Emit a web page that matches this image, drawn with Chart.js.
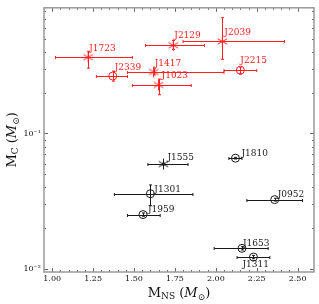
<!DOCTYPE html>
<html>
<head>
<meta charset="utf-8">
<script src="https://cdn.jsdelivr.net/npm/chart.js@4.4.0/dist/chart.umd.min.js"></script>
<style>
  html, body { margin: 0; padding: 0; background: #fff; }
</style>
</head>
<body>
<canvas id="myChart" width="319" height="304"></canvas>
<script>
'use strict';
// red systems
var redNames = ['J1723', 'J2339', 'J1417', 'J1023', 'J2129', 'J2039', 'J2215'];
var redMns = [1.22, 1.37, 1.62, 1.65, 1.74, 2.04, 2.15];
var redMnsLo = [1.02, 1.27, 1.46, 1.49, 1.57, 1.80, 2.05];
var redMnsHi = [1.49, 1.46, 2.05, 1.85, 1.93, 2.42, 2.25];
var redMc = [0.365, 0.265, 0.284, 0.228, 0.447, 0.477, 0.293];
var redMcLo = [0.303, 0.243, 0.27, 0.193, 0.417, 0.352, 0.274];
var redMcHi = [0.404, 0.288, 0.30, 0.252, 0.485, 0.714, 0.308];
var redMarker = ['star', 'circle', 'star', 'star', 'star', 'star', 'circle'];

// black systems
var blackNames = ['J1555', 'J1810', 'J1301', 'J1959', 'J0952', 'J1653', 'J1311'];
var blackMns = [1.68, 2.12, 1.60, 1.555, 2.36, 2.16, 2.23];
var blackMnsLo = [1.585, 2.08, 1.38, 1.46, 2.19, 1.99, 2.13];
var blackMnsHi = [1.83, 2.16, 1.86, 1.66, 2.53, 2.32, 2.33];
var blackMc = [0.0594, 0.0657, 0.0359, 0.0252, 0.0325, 0.0142, 0.01225];
var blackMcLo = [0.0585, 0.0648, 0.0293, 0.0245, 0.0317, 0.0138, 0.0119];
var blackMcHi = [0.0603, 0.0666, 0.0417, 0.0259, 0.0333, 0.0146, 0.0126];
var blackMarker = ['star', 'circle', 'circle', 'circle', 'circle', 'circle', 'circle'];

// tick labels
var xTicks = [1.00, 1.25, 1.50, 1.75, 2.00, 2.25, 2.50];
var yTicks = [0.01, 0.1];
var yTickLabels = ['10\u207B\u00B2', '10\u207B\u00B9'];

var RED = '#ff1f1f';
var BLACK = '#1a1a1a';
var SERIF = '"DejaVu Serif", "Liberation Serif", serif';

// label offsets (px) relative to each marker
var labelOffset = {
  J1723: [1, -9], J2339: [2, -8], J1417: [1, -8], J1023: [3, -9],
  J2129: [1, -10], J2039: [2, -9], J2215: [0, -9],
  J1555: [4, -6], J1810: [6, -5], J1301: [4, -4], J1959: [5, -5],
  J0952: [3, -5], J1653: [1, -5], J1311: [-11, 8]
};

function asteriskImage(color) {
  var c = document.createElement('canvas');
  c.width = 13;
  c.height = 13;
  var g = c.getContext('2d');
  g.strokeStyle = color;
  g.lineWidth = 1;
  var r = 5.5;
  for (var k = 0; k < 3; k++) {
    var a = Math.PI / 2 + k * Math.PI / 3;
    g.beginPath();
    g.moveTo(6.5 + r * Math.cos(a), 6.5 + r * Math.sin(a));
    g.lineTo(6.5 - r * Math.cos(a), 6.5 - r * Math.sin(a));
    g.stroke();
  }
  return c;
}
var redStar = asteriskImage(RED);
var blackStar = asteriskImage(BLACK);

function makePoints(xs, ys) {
  var out = [];
  for (var i = 0; i < xs.length; i++) {
    out.push({x: xs[i], y: ys[i]});
  }
  return out;
}
function makeStyles(markers, img) {
  return markers.map(function (m) { return m === 'star' ? img : 'circle'; });
}

var groups = [
  {names: redNames, lo: redMnsLo, hi: redMnsHi, ylo: redMcLo, yhi: redMcHi, color: RED},
  {names: blackNames, lo: blackMnsLo, hi: blackMnsHi, ylo: blackMcLo, yhi: blackMcHi, color: BLACK}
];

// error bars
var errorBars = {
  id: 'errorBars',
  beforeDatasetsDraw: function (chart) {
    var ctx = chart.ctx;
    var xs = chart.scales.x;
    var ys = chart.scales.y;
    ctx.save();
    ctx.lineWidth = 1;
    groups.forEach(function (g, d) {
      var meta = chart.getDatasetMeta(d);
      ctx.strokeStyle = g.color;
      meta.data.forEach(function (pt, i) {
        var x0 = xs.getPixelForValue(g.lo[i]);
        var x1 = xs.getPixelForValue(g.hi[i]);
        var y0 = ys.getPixelForValue(g.ylo[i]);
        var y1 = ys.getPixelForValue(g.yhi[i]);
        var py = Math.round(pt.y) + 0.5;
        var px = Math.round(pt.x) + 0.5;
        ctx.beginPath();
        ctx.moveTo(x0, py); ctx.lineTo(x1, py);
        ctx.moveTo(x0, py - 1.5); ctx.lineTo(x0, py + 1.5);
        ctx.moveTo(x1, py - 1.5); ctx.lineTo(x1, py + 1.5);
        ctx.moveTo(px, y0); ctx.lineTo(px, y1);
        ctx.moveTo(px - 1.5, y0); ctx.lineTo(px + 1.5, y0);
        ctx.moveTo(px - 1.5, y1); ctx.lineTo(px + 1.5, y1);
        ctx.stroke();
      });
    });
    ctx.restore();
  }
};

// point names
var pointLabels = {
  id: 'pointLabels',
  afterDatasetsDraw: function (chart) {
    var ctx = chart.ctx;
    ctx.save();
    ctx.font = '9px ' + SERIF;
    ctx.textAlign = 'left';
    ctx.textBaseline = 'middle';
    groups.forEach(function (g, d) {
      var meta = chart.getDatasetMeta(d);
      ctx.fillStyle = g.color;
      meta.data.forEach(function (pt, i) {
        var off = labelOffset[g.names[i]];
        ctx.fillText(g.names[i], pt.x + off[0], pt.y + off[1]);
      });
    });
    ctx.restore();
  }
};

// frame, inward ticks on all four sides, axis titles
function drawMixed(ctx, parts, cx, cy) {
  var total = 0;
  parts.forEach(function (p) {
    ctx.font = p.font;
    p.w = ctx.measureText(p.t).width;
    total += p.w;
  });
  var x = cx - total / 2;
  parts.forEach(function (p) {
    ctx.font = p.font;
    ctx.fillText(p.t, x, cy + (p.dy || 0));
    x += p.w;
  });
}

var frame = {
  id: 'frame',
  afterDraw: function (chart) {
    var ctx = chart.ctx;
    var a = chart.chartArea;
    var xs = chart.scales.x;
    var ys = chart.scales.y;
    ctx.save();
    ctx.strokeStyle = '#666';
    ctx.lineWidth = 1;
    ctx.beginPath();
    var v, p, len;
    for (v = 1.0; v <= 2.5001; v += 0.05) {
      p = Math.round(xs.getPixelForValue(v)) + 0.5;
      len = Math.abs(v * 4 - Math.round(v * 4)) < 1e-6 ? 4 : 2;
      ctx.moveTo(p, a.bottom); ctx.lineTo(p, a.bottom - len);
      ctx.moveTo(p, a.top); ctx.lineTo(p, a.top + len);
    }
    [0.01, 0.1].forEach(function (dec) {
      for (var m = 1; m <= 9; m++) {
        var val = dec * m;
        if (val < ys.min || val > ys.max) continue;
        p = Math.round(ys.getPixelForValue(val)) + 0.5;
        len = m === 1 ? 4 : 2;
        ctx.moveTo(a.left, p); ctx.lineTo(a.left + len, p);
        ctx.moveTo(a.right, p); ctx.lineTo(a.right - len, p);
      }
    });
    ctx.stroke();
    ctx.strokeStyle = '#999';
    ctx.lineWidth = 1.5;
    ctx.strokeRect(a.left, a.top, a.right - a.left, a.bottom - a.top);

    ctx.fillStyle = '#111';
    ctx.textBaseline = 'alphabetic';
    ctx.textAlign = 'left';
    var big = '13px ' + SERIF;
    var small = '9px ' + SERIF;
    var ital = 'italic 13px ' + SERIF;
    drawMixed(ctx, [
      {t: 'M', font: big}, {t: 'NS', font: small, dy: 2},
      {t: ' (', font: big}, {t: 'M', font: ital}, {t: '\u2299', font: small, dy: 3},
      {t: ')', font: big}
    ], (a.left + a.right) / 2, 297);
    ctx.translate(16, (a.top + a.bottom) / 2);
    ctx.rotate(-Math.PI / 2);
    drawMixed(ctx, [
      {t: 'M', font: big}, {t: 'C', font: small, dy: 2},
      {t: ' (', font: big}, {t: 'M', font: ital}, {t: '\u2299', font: small, dy: 3},
      {t: ')', font: big}
    ], 0, 0);
    ctx.restore();
  }
};

var ctx = document.getElementById('myChart').getContext('2d');
var chart = new Chart(ctx, {
  type: 'scatter',
  data: {
    datasets: [{
      data: makePoints(redMns, redMc),
      pointStyle: makeStyles(redMarker, redStar),
      pointRadius: 4,
      pointBorderWidth: 1,
      borderColor: RED,
      backgroundColor: 'rgba(0,0,0,0)'
    }, {
      data: makePoints(blackMns, blackMc),
      pointStyle: makeStyles(blackMarker, blackStar),
      pointRadius: 4,
      pointBorderWidth: 1,
      borderColor: BLACK,
      backgroundColor: 'rgba(0,0,0,0)'
    }]
  },
  options: {
    responsive: false,
    animation: false,
    devicePixelRatio: 1,
    layout: {padding: {top: 4, right: 4}},
    plugins: {legend: {display: false}, tooltip: {enabled: false}},
    scales: {
      x: {
        type: 'linear',
        min: 0.95,
        max: 2.6,
        grid: {display: false, drawTicks: false, tickLength: 0},
        border: {display: false},
        afterBuildTicks: function (s) {
          s.ticks = xTicks.map(function (v) { return {value: v}; });
        },
        afterFit: function (s) { s.height = 32; },
        ticks: {
          padding: 2,
          color: '#111',
          font: {family: SERIF, size: 8},
          callback: function (v) { return Number(v).toFixed(2); }
        }
      },
      y: {
        type: 'logarithmic',
        min: 0.0095,
        max: 0.845,
        grid: {display: false, drawTicks: false, tickLength: 0},
        border: {display: false},
        afterBuildTicks: function (s) {
          s.ticks = yTicks.map(function (v) { return {value: v}; });
        },
        afterFit: function (s) { s.width = 44; },
        ticks: {
          padding: 3,
          color: '#111',
          font: {family: SERIF, size: 8},
          callback: function (v) {
            var i = yTicks.indexOf(v);
            return i >= 0 ? yTickLabels[i] : '';
          }
        }
      }
    }
  },
  plugins: [errorBars, pointLabels, frame]
});
</script>
</body>
</html>
